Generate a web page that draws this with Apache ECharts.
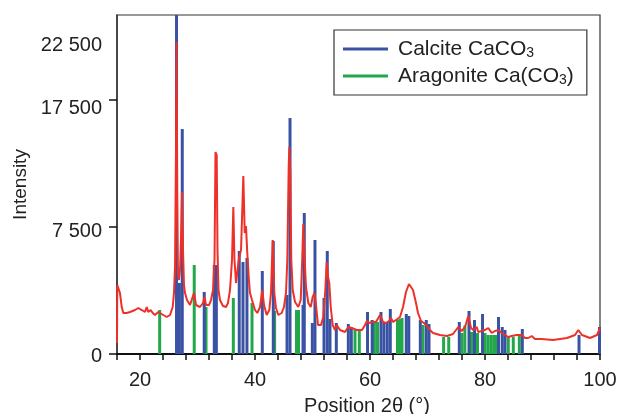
<!DOCTYPE html>
<html><head><meta charset="utf-8">
<script src="https://cdn.jsdelivr.net/npm/echarts@6/dist/echarts.min.js"></script>
<style>html,body{margin:0;padding:0;background:#fff}#c{width:617px;height:414px}</style>
</head><body><div id="c"></div>
<script>
// Measured XRD pattern (2θ in degrees, intensity)
const patternTheta = [16.0,16.05,16.52,16.82,17.1,17.69,18.26,19.13,19.7,20.3,20.87,21.17,21.44,21.86,22.21,22.61,23.18,23.48,24.05,24.64,25.22,25.69,25.91,26.09,26.26,26.35,26.49,26.61,26.78,26.96,27.13,27.3,27.48,27.65,27.83,28.17,28.7,29.04,29.39,29.74,30.43,30.96,31.22,31.48,32.0,32.35,32.7,32.96,33.13,33.34,33.48,33.65,33.91,34.43,34.96,35.3,35.65,36.0,36.23,36.43,36.7,36.96,37.22,37.57,37.97,38.21,38.43,38.66,38.9,39.13,39.48,40.0,40.4,40.87,41.27,41.57,42.03,42.49,42.78,43.08,43.36,43.65,44.05,44.64,45.04,45.39,45.62,45.86,45.97,46.14,46.31,46.56,46.96,47.53,47.95,48.17,48.4,48.64,48.87,49.27,49.69,50.03,50.35,50.61,50.96,51.48,51.88,52.23,52.47,52.7,52.92,53.17,53.51,53.91,54.21,54.78,55.65,56.23,56.82,57.69,58.61,59.13,59.48,59.83,60.35,61.04,61.74,62.26,62.78,63.3,63.65,64.0,64.52,65.22,65.74,66.26,66.78,67.08,67.48,68.0,68.35,68.87,69.39,69.91,70.43,70.96,72.17,73.39,74.43,75.36,75.95,76.52,77.1,77.57,77.97,78.56,78.83,79.43,80.0,80.57,81.17,81.74,82.31,82.9,83.48,84.05,84.64,85.51,86.38,86.96,87.53,88.12,88.7,89.86,91.83,94.26,95.65,96.23,96.87,98.26,99.48,100.0];
const patternIntensity = [568,3806,3334,2528,2190,2190,2246,2358,2471,2358,2246,2528,2246,2358,2190,2078,2246,2358,2078,1967,2078,2528,3334,4901,13217,23116,9392,4409,4106,4716,6630,9975,5977,3807,3334,2928,2641,2641,3334,2641,2528,2756,3101,2641,2641,2928,3510,5339,13056,12815,5977,3510,2928,2584,2528,2756,3510,5339,8890,5339,3926,4716,5466,5977,11173,7095,7568,5784,4287,3334,2928,2358,2190,2528,3510,2641,2078,2358,3334,6630,3334,2471,2078,2190,2528,3334,5339,11868,13461,11403,5339,3510,2813,2528,2928,4901,7705,5339,3688,2756,2528,3101,3334,2641,1528,1528,1967,3510,5213,4287,3926,2528,1528,1257,1528,1257,1150,1419,1365,1257,1257,1528,1746,1637,1692,1692,2078,1692,1637,1746,1912,1692,1801,1967,2528,3393,3866,3926,3510,2756,2190,1746,1637,1473,1257,1096,990,936,1043,1419,1203,1419,2023,1365,1257,1419,1150,1203,1257,1365,1096,1203,1257,1096,990,883,936,990,990,830,830,936,778,778,725,830,990,1257,990,830,990,1365];

// Reference peaks: Calcite CaCO3
const calciteTheta = [26.35,26.85,27.35,31.17,32.92,33.28,37.26,37.91,38.6,41.27,43.18,45.57,46.09,48.35,48.57,49.97,50.43,52.0,52.57,53.04,54.14,56.23,56.75,59.57,60.38,61.91,62.43,63.0,63.53,66.31,66.75,68.75,69.79,70.26,75.53,77.22,78.17,79.57,82.35,83.0,83.48,86.49,96.35,99.91];
const calciteIntensity = [28000,3926,14957,3393,5026,5026,5913,5213,5466,4654,6564,3217,15901,2641,8467,1637,6630,3043,5913,1857,1637,1582,1419,2246,1801,2246,1637,1692,2415,2134,2023,1801,1801,1582,1692,2302,1801,2134,1967,1419,1257,1311,990,1419];

// Reference peaks: Aragonite Ca(CO3)
const aragoniteTheta = [23.42,29.43,31.48,36.23,39.48,43.41,47.22,47.57,57.39,58.14,60.77,61.3,64.78,65.22,65.57,69.22,72.8,73.69,76.0,76.5,77.65,78.7,80.0,80.5,81.0,81.5,81.9,84.05,84.92,85.97];
const aragoniteIntensity = [2358,5026,2528,3043,2756,2302,2358,2358,1257,1257,1692,1692,1801,1857,1912,1528,883,883,1096,1500,1150,1096,1096,990,990,990,990,883,883,990];

// Axis ticks/labels
const xMin = 16, xMax = 100, xTickStep = 4, xLabelStep = 20;
const yTickValues = [0, 7500, 17500];
const yLabelValues = [0, 7500, 17500, 22500];
const yMaxIntensity = 26000;

// compressed intensity scale of the original figure
const SCALE = 22500;
const tf = v => Math.log(1 + v / SCALE);
const inv = t => SCALE * (Math.exp(t) - 1);
const fmt = n => String(n).replace(/\B(?=(\d{3})+(?!\d))/g, ' ');

const pair = (xs, ys) => xs.map((x, i) => [x, tf(ys[i])]);

const FONT = 'Liberation Sans, Arial, sans-serif';
const labelShift = {0: 'a', 7500: 'b', 17500: 'c', 22500: 'd'};

const chart = echarts.init(document.getElementById('c'), null, {renderer: 'canvas'});
chart.setOption({
  animation: false,
  backgroundColor: '#fff',
  textStyle: {fontFamily: FONT},
  grid: {left: 117, right: 17, top: 15, bottom: 60, outerBoundsMode: 'none', containLabel: false,
    show: true, borderColor: '#333', borderWidth: 1.2, backgroundColor: 'transparent'},
  legend: {
    orient: 'vertical', left: 334, top: 30,
    padding: [7, 13, 7, 9], itemGap: 3,
    borderColor: '#333', borderWidth: 1.2, backgroundColor: '#fff',
    itemWidth: 45, itemHeight: 3, icon: 'rect',
    data: ['Calcite CaCO3', 'Aragonite Ca(CO3)'],
    formatter: n => n === 'Calcite CaCO3' ? 'Calcite CaCO{s|3}' : 'Aragonite Ca(CO{s|3})',
    textStyle: {fontSize: 21, color: '#222', fontFamily: FONT, padding: [0,0,0,5], lineHeight: 24,
      rich: {s: {fontSize: 14, fontFamily: FONT, color: '#222', padding: [9, 0, 0, 0]}}}
  },
  xAxis: {
    type: 'value', min: xMin, max: xMax, interval: xTickStep,
    name: 'Position 2θ (°)', nameLocation: 'middle', nameGap: 42,
    nameTextStyle: {fontSize: 20, color: '#222', fontFamily: FONT, padding: [0, 0, 0, 17]},
    axisLine: {lineStyle: {color: '#111', width: 2}},
    axisTick: {length: 6, lineStyle: {color: '#111', width: 1.5}},
    axisLabel: {fontSize: 20, color: '#222', margin: 16, fontFamily: FONT,
      formatter: v => (v % xLabelStep === 0 ? String(v) : '')},
    splitLine: {show: false}
  },
  yAxis: {
    type: 'value', min: 0, max: tf(yMaxIntensity),
    name: 'Intensity', nameLocation: 'middle', nameGap: 86,
    nameTextStyle: {fontSize: 19, color: '#222', fontFamily: FONT},
    axisLine: {show: true, lineStyle: {color: '#333', width: 1.5}},
    axisTick: {show: true, length: 8, lineStyle: {color: '#111', width: 1.5}, customValues: yTickValues.map(tf)},
    axisLabel: {fontSize: 20, color: '#222', margin: 15, fontFamily: FONT,
      customValues: yLabelValues.map(tf),
      formatter: v => { const n = Math.round(inv(v) / 500) * 500; return '{' + (labelShift[n] || 'a') + '|' + fmt(n) + '}'; },
      rich: {
        a: {fontSize: 20, fontFamily: FONT, color: '#222', padding: [4, 0, 0, 0]},
        b: {fontSize: 20, fontFamily: FONT, color: '#222', padding: [8, 0, 0, 0]},
        c: {fontSize: 20, fontFamily: FONT, color: '#222', padding: [16, 0, 0, 0]},
        d: {fontSize: 20, fontFamily: FONT, color: '#222', padding: [0, 0, 6, 0]}
      }},
    splitLine: {show: false}
  },
  series: [
    {name: 'Aragonite Ca(CO3)', type: 'bar', barWidth: 3, barGap: '-100%', z: 2,
      itemStyle: {color: '#22a84b'}, data: pair(aragoniteTheta, aragoniteIntensity)},
    {name: 'Calcite CaCO3', type: 'bar', barWidth: 3, barGap: '-100%', z: 3,
      itemStyle: {color: '#3a52a3'}, data: pair(calciteTheta, calciteIntensity)},
    {name: 'pattern', type: 'line', showSymbol: false, z: 4, clip: true,
      lineStyle: {color: '#ee3128', width: 2}, data: pair(patternTheta, patternIntensity)}
  ]
});
</script></body></html>
